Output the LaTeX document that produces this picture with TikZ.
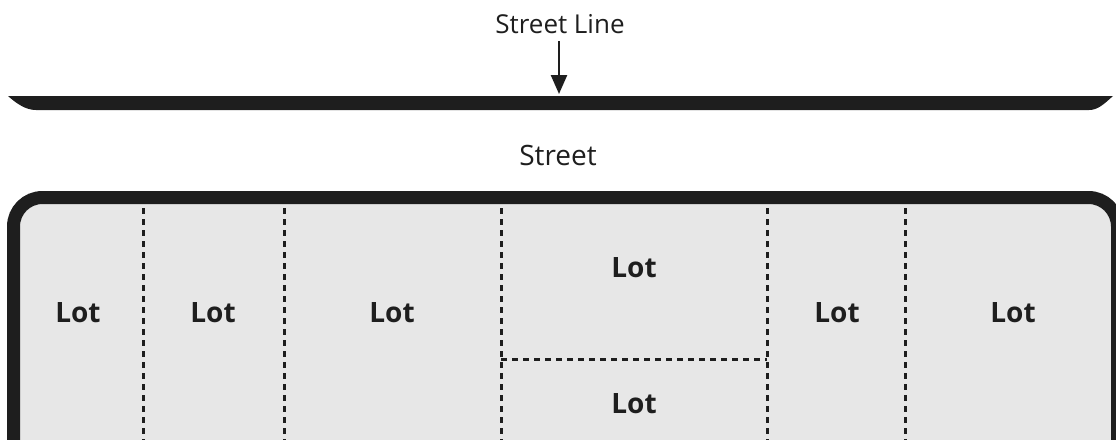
\documentclass[tikz,border=0pt]{standalone}
\usepackage{fontspec}
\setmainfont{Open Sans}
\usetikzlibrary{arrows.meta}
\definecolor{ink}{HTML}{1E1E1E}
\definecolor{lotfill}{HTML}{E7E7E7}
\tikzset{
  plain/.style={font=\fontsize{26}{30}\selectfont, text=ink, inner sep=0pt, anchor=base},
  lotlabel/.style={font=\bfseries\fontsize{28}{32}\selectfont, text=ink, inner sep=0pt, anchor=base},
  lotline/.style={draw=ink, line width=3pt, dash pattern=on 6pt off 5pt},
  border/.style={draw=ink, line width=13pt, fill=lotfill, rounded corners=29pt},
  pointer/.style={draw=ink, line width=2.5pt, -{Triangle[width=16pt,length=19pt]}}
}
\begin{document}
\begin{tikzpicture}[x=1pt,y=-1pt]
\useasboundingbox (0,0) rectangle (1116,439);
\clip (0,0) rectangle (1116,439);
% street line (tapered bar)
\fill[ink] (8,96) -- (1113,96) .. controls (1104,104) and (1098,110) .. (1089,110)
  -- (36,110) .. controls (26,110) and (17,104) .. (8,96) -- cycle;
% labels
\node[plain] (sl) at (560,33) {Street Line};
\coordinate (arrowstart) at (559,41);
\coordinate (arrowtip) at (559,94);
\draw[pointer] (arrowstart) -- (arrowtip);
\node[plain, font=\fontsize{28}{32}\selectfont] (street) at (558,165) {Street};
% block
\draw[border] (13.5,197.5) rectangle (1117.5,480);
% lot lines
\coordinate (v1t) at (143,208); \coordinate (v1b) at (143,445);
\coordinate (v2t) at (284,208); \coordinate (v2b) at (284,445);
\coordinate (v3t) at (501,208); \coordinate (v3b) at (501,445);
\coordinate (v4t) at (767,208); \coordinate (v4b) at (767,445);
\coordinate (v5t) at (905,208); \coordinate (v5b) at (905,445);
\coordinate (hl) at (501,359); \coordinate (hr) at (767,359);
\draw[lotline] (v1t) -- (v1b);
\draw[lotline] (v2t) -- (v2b);
\draw[lotline] (v3t) -- (v3b);
\draw[lotline] (v4t) -- (v4b);
\draw[lotline] (v5t) -- (v5b);
\draw[lotline] (hl) -- (hr);
% lot labels
\node[lotlabel] (lot1) at (78,322) {Lot};
\node[lotlabel] (lot2) at (213,322) {Lot};
\node[lotlabel] (lot3) at (392,322) {Lot};
\node[lotlabel] (lot4a) at (634,277) {Lot};
\node[lotlabel] (lot4b) at (634,413) {Lot};
\node[lotlabel] (lot5) at (837,322) {Lot};
\node[lotlabel] (lot6) at (1013,322) {Lot};
\end{tikzpicture}
\end{document}
